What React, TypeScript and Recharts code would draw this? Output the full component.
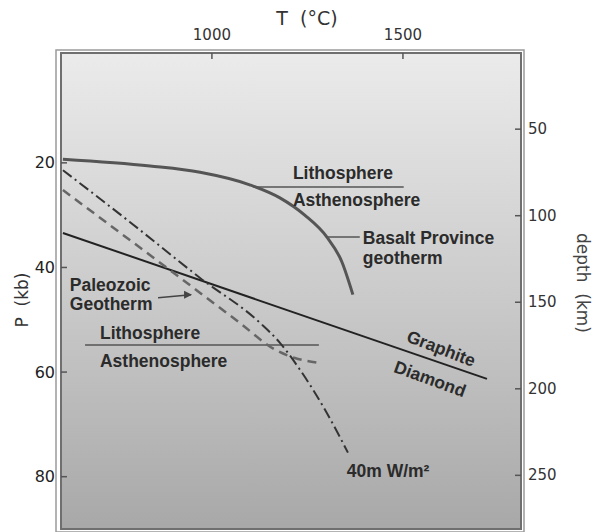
import React from "react";
import {
  ComposedChart,
  Line,
  XAxis,
  YAxis,
  CartesianGrid,
  ReferenceArea,
  ReferenceLine,
  ReferenceDot,
  Label,
} from "recharts";

// temperature (°C) / pressure (kb)
const basaltT = [610, 838, 969, 1099, 1178, 1243, 1301, 1340, 1369];
const basaltP = [19.3, 20.6, 21.8, 24.2, 26.7, 30.0, 34.2, 38.9, 45.2];

const graphiteT = [610, 1720];
const graphiteP = [33.4, 61.3];

const heatFlowT = [610, 785, 969, 1126, 1178, 1230, 1296, 1356];
const heatFlowP = [21.4, 31.3, 42.0, 50.6, 54.4, 59.5, 67.2, 75.4];

const paleozoicT = [610, 890, 1073, 1165, 1217, 1277];
const paleozoicP = [25.2, 40.5, 50.6, 55.7, 57.3, 58.2];

// lithosphere / asthenosphere boundaries
const upperLabT = [1107, 1502];
const upperLabP = [24.6, 24.6];
const lowerLabT = [668, 1280];
const lowerLabP = [54.8, 54.8];

const tTicks = [1000, 1500];
const pTicks = [20, 40, 60, 80];
const depthTicks = [50, 100, 150, 200, 250];

const T_DOMAIN = [605, 1809];
const P_DOMAIN = [-1, 90];
const DEPTH_DOMAIN = [6, 281];

const zip = (t: number[], p: number[]) => t.map((v, i) => ({ t: v, p: p[i] }));

const basalt = zip(basaltT, basaltP);
const graphite = zip(graphiteT, graphiteP);
const heatFlow = zip(heatFlowT, heatFlowP);
const paleozoic = zip(paleozoicT, paleozoicP);
const upperLab = zip(upperLabT, upperLabP);
const lowerLab = zip(lowerLabT, lowerLabP);

// annotation text, anchored in data units (T, P)
const notes = [
  { text: "Lithosphere", t: 1212, p: 21.9 },
  { text: "Asthenosphere", t: 1212, p: 27.1 },
  { text: "Basalt Province", t: 1395, p: 34.4 },
  { text: "geotherm", t: 1395, p: 38.2 },
  { text: "Paleozoic", t: 628, p: 43.3 },
  { text: "Geotherm", t: 628, p: 46.9 },
  { text: "Lithosphere", t: 707, p: 52.5 },
  { text: "Asthenosphere", t: 707, p: 57.8 },
  { text: "Graphite", t: 1600, p: 55.5, angle: 21 },
  { text: "Diamond", t: 1571, p: 61.3, angle: 20 },
  { text: "40m W/m²", t: 1353, p: 79.0 },
];

const FONT = "'DejaVu Sans', Verdana, sans-serif";
const BOLD = "'Liberation Sans', Arial, sans-serif";

const TopTick = (props: any) => {
  const { x, y, payload } = props;
  return (
    <g>
      <text x={x} y={y} textAnchor="middle" fontFamily={FONT} fontSize={15} fill="#333">
        {payload.value}
      </text>
      <line x1={x} x2={x} y1={y + 13} y2={y + 19} stroke="#555" strokeWidth={1.5} />
    </g>
  );
};

const LeftTick = (props: any) => {
  const { x, y, payload } = props;
  return (
    <g>
      <text x={x} y={y} textAnchor="end" dominantBaseline="central" fontFamily={FONT} fontSize={16} fill="#222">
        {payload.value}
      </text>
      <line x1={x + 6} x2={x + 12} y1={y} y2={y} stroke="#555" strokeWidth={1.5} />
    </g>
  );
};

const RightTick = (props: any) => {
  const { x, y, payload } = props;
  return (
    <g>
      <text x={x} y={y} textAnchor="start" dominantBaseline="central" fontFamily={FONT} fontSize={15} fill="#333">
        {payload.value}
      </text>
      <line x1={x - 7} x2={x - 13} y1={y} y2={y} stroke="#555" strokeWidth={1.5} />
    </g>
  );
};

const Frame = (props: any) => {
  const { x, y, width, height } = props;
  return (
    <g>
      <rect x={x - 5} y={y - 3} width={width + 8} height={height + 6} fill="none" stroke="#9a9a9a" strokeWidth={1.5} />
      <rect x={x} y={y} width={width} height={height} fill="none" stroke="#6f6f6f" strokeWidth={2} />
    </g>
  );
};

const noteShape = (text: string, angle?: number) => (props: any) => {
  const { cx, cy } = props;
  return (
    <text
      x={cx}
      y={cy}
      textAnchor={angle ? "middle" : "start"}
      dominantBaseline="central"
      transform={angle ? `rotate(${angle} ${cx} ${cy})` : undefined}
      fontFamily={BOLD}
      fontWeight="bold"
      fontSize={17.5}
      fill="#2b2b2b"
    >
      {text}
    </text>
  );
};

const ArrowHead = (props: any) => {
  const { cx, cy } = props;
  return <path d={`M${cx} ${cy} L${cx - 8} ${cy - 4} L${cx - 8} ${cy + 4} Z`} fill="#444" />;
};

const App = () => {
  return (
    <div style={{ position: "absolute", left: 0, top: 0, width: 600, height: 532, background: "#fff" }}>
      <ComposedChart width={600} height={532} margin={{ top: 0, right: 0, bottom: 3, left: 0 }}>
        <defs>
          <linearGradient id="plotBg" x1="0" y1="0" x2="0" y2="1">
            <stop offset="0%" stopColor="#ebebeb" />
            <stop offset="50%" stopColor="#cbcbcb" />
            <stop offset="100%" stopColor="#a8a8a8" />
          </linearGradient>
        </defs>
        <CartesianGrid yAxisId="p" horizontal={false} vertical={false} fill="url(#plotBg)" fillOpacity={1} />
        <XAxis
          type="number"
          dataKey="t"
          orientation="top"
          height={53}
          domain={T_DOMAIN}
          allowDataOverflow
          ticks={tTicks}
          tickSize={0}
          tickMargin={13}
          tickLine={false}
          axisLine={false}
          tick={TopTick}
        >
          <Label
            content={({ viewBox }: any) => (
              <text
                x={viewBox.x + viewBox.width / 2 + 16}
                y={viewBox.y + 25}
                textAnchor="middle"
                fontFamily={FONT}
                fontSize={19}
                fill="#333"
              >
                {"T\u00a0\u00a0(°C)"}
              </text>
            )}
          />
        </XAxis>
        <YAxis
          yAxisId="p"
          type="number"
          orientation="left"
          width={61}
          reversed
          domain={P_DOMAIN}
          allowDataOverflow
          ticks={pTicks}
          tickSize={0}
          tickMargin={6}
          tickLine={false}
          axisLine={false}
          tick={LeftTick}
        >
          <Label
            content={({ viewBox }: any) => (
              <text
                x={viewBox.x + 22}
                y={300}
                textAnchor="middle"
                dominantBaseline="central"
                transform={`rotate(-90 ${viewBox.x + 22} 300)`}
                fontFamily={FONT}
                fontSize={17}
                fill="#333"
              >
                {"P\u00a0\u00a0(kb)"}
              </text>
            )}
          />
        </YAxis>
        <YAxis
          yAxisId="depth"
          type="number"
          orientation="right"
          width={79}
          reversed
          domain={DEPTH_DOMAIN}
          allowDataOverflow
          ticks={depthTicks}
          tickSize={0}
          tickMargin={7}
          tickLine={false}
          axisLine={false}
          tick={RightTick}
        >
          <Label
            content={({ viewBox }: any) => (
              <text
                x={viewBox.x + 62}
                y={283}
                textAnchor="middle"
                dominantBaseline="central"
                transform={`rotate(90 ${viewBox.x + 62} 283)`}
                fontFamily={FONT}
                fontSize={17}
                fill="#444"
              >
                {"depth\u00a0\u00a0(km)"}
              </text>
            )}
          />
        </YAxis>

        <ReferenceArea yAxisId="p" shape={Frame} fill="none" />

        <Line yAxisId="p" data={upperLab} dataKey="p" type="linear" stroke="#555" strokeWidth={1.5} dot={false} isAnimationActive={false} />
        <Line yAxisId="p" data={lowerLab} dataKey="p" type="linear" stroke="#555" strokeWidth={1.5} dot={false} isAnimationActive={false} />
        <Line yAxisId="p" data={graphite} dataKey="p" type="linear" stroke="#222" strokeWidth={2} dot={false} isAnimationActive={false} />
        <Line yAxisId="p" data={paleozoic} dataKey="p" type="monotone" stroke="#666" strokeWidth={2.5} strokeDasharray="9 6" dot={false} isAnimationActive={false} />
        <Line yAxisId="p" data={heatFlow} dataKey="p" type="monotone" stroke="#333" strokeWidth={2} strokeDasharray="11 4 2 4" dot={false} isAnimationActive={false} />
        <Line yAxisId="p" data={basalt} dataKey="p" type="monotone" stroke="#555" strokeWidth={3} dot={false} isAnimationActive={false} />

        <ReferenceLine yAxisId="p" segment={[{ x: 1301, y: 34.2 }, { x: 1387, y: 34.2 }]} stroke="#555" strokeWidth={1.5} />
        <ReferenceLine yAxisId="p" segment={[{ x: 859, y: 45.8 }, { x: 945, y: 45.2 }]} stroke="#444" strokeWidth={1.5} />
        <ReferenceDot yAxisId="p" x={948} y={45.2} r={0} shape={ArrowHead} />

        {notes.map((n, i) => (
          <ReferenceDot key={i} yAxisId="p" x={n.t} y={n.p} r={0} shape={noteShape(n.text, n.angle)} />
        ))}
      </ComposedChart>
    </div>
  );
};

export default App;
